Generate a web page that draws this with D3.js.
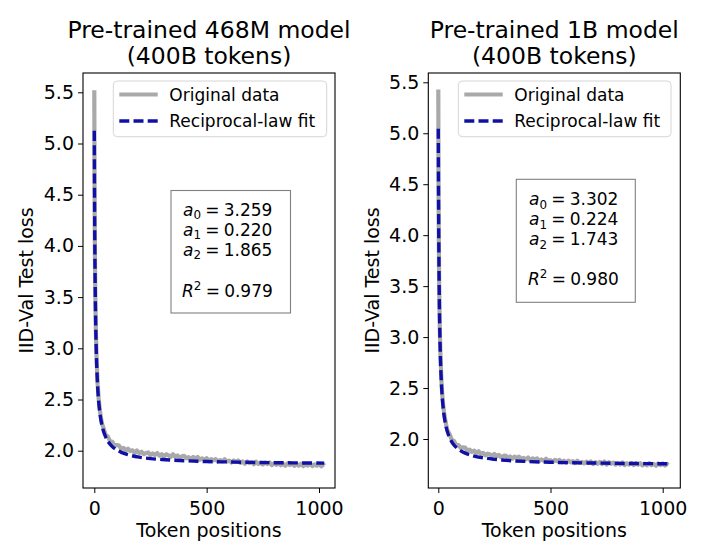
<!DOCTYPE html>
<html><head><meta charset="utf-8">
<script src="https://cdn.jsdelivr.net/npm/d3@7"></script>
<style>
body{margin:0;background:#fff;}
text{font-family:"DejaVu Sans",sans-serif;fill:#000;}
</style></head><body>
<svg id="chart" width="712" height="556"></svg>
<script>
// ---- data ----
const titles = [["Pre-trained 468M model","(400B tokens)"],["Pre-trained 1B model","(400B tokens)"]];
const yTicks = [2.0,2.5,3.0,3.5,4.0,4.5,5.0,5.5];
const xTicks = [0,500,1000];
const xLabel = "Token positions";
const yLabel = "IID-Val Test loss";
const legendLabels = ["Original data","Reciprocal-law fit"];

const dataTokens = [0,1,2,3,4,5,7,10,15,20,25,30,35,40,50,60,70,80,90,100,110,120,130,140,150,160,170,180,190,200,210,220,230,240,250,260,270,280,290,300,310,320,330,340,350,360,370,380,390,400,410,420,430,440,450,460,470,480,490,500,510,520,530,540,550,560,570,580,590,600,610,620,630,640,650,660,670,680,690,700,710,720,730,740,750,760,770,780,790,800,810,820,830,840,850,860,870,880,890,900,910,920,930,940,950,960,970,980,990,1000,1010,1020,1023];

const data468M = [5.52,4.60,4.15,3.85,3.62,3.44,3.17,2.91,2.645,2.49,2.39,2.315,2.26,
2.228,2.156,2.139,2.093,2.087,2.050,2.055,2.050,2.018,2.028,2.000,2.020,1.996,2.004,1.977,2.002,1.976,
1.990,1.966,1.977,1.983,1.956,1.973,1.959,1.977,1.951,1.965,1.943,1.965,1.955,1.941,1.966,1.941,1.953,1.929,1.945,1.949,
1.926,1.937,1.916,1.939,1.924,1.939,1.911,1.925,1.910,1.927,1.898,1.918,1.906,1.917,1.893,1.909,1.895,1.916,1.894,1.903,
1.885,1.905,1.890,1.904,1.881,1.895,1.873,1.895,1.878,1.889,1.868,1.893,1.871,1.881,1.865,1.884,1.870,1.885,1.859,1.877,
1.862,1.880,1.858,1.872,1.853,1.876,1.860,1.873,1.852,1.869,1.854,1.874,1.849,1.867,1.854,1.871,1.850,1.867,1.854,1.869,
1.848,1.865,1.855];

const data1B = [5.43,4.53,4.06,3.75,3.51,3.33,3.05,2.79,2.525,2.37,2.27,2.20,2.14,
2.089,2.048,1.992,1.981,1.938,1.940,1.912,1.918,1.915,1.884,1.896,1.873,1.886,1.857,1.879,1.855,1.864,
1.839,1.856,1.848,1.833,1.854,1.832,1.845,1.820,1.834,1.838,1.815,1.828,1.806,1.827,1.813,1.827,1.802,1.814,1.800,1.818,
1.790,1.810,1.799,1.809,1.783,1.799,1.786,1.806,1.784,1.793,1.775,1.795,1.781,1.795,1.772,1.787,1.767,1.788,1.771,1.783,
1.763,1.786,1.765,1.775,1.760,1.778,1.764,1.779,1.754,1.772,1.757,1.776,1.754,1.779,1.749,1.772,1.757,1.769,1.748,1.766,
1.750,1.770,1.745,1.762,1.749,1.766,1.744,1.762,1.748,1.762,1.741,1.759,1.742,1.763,1.744,1.755,1.738,1.760,1.745,1.760,
1.739,1.755,1.744];

const fitTokens = [0,1,2,3,4,5,7,10,15,20,25,30,40,50,60,70,80,90,100,120,150,200,250,300,400,500,600,700,800,900,1023];
const fit468M = [5.124,4.536,4.128,3.828,3.599,3.417,3.148,2.883,2.623,2.469,2.366,2.294,2.198,2.137,2.095,2.064,2.040,2.022,2.007,1.984,1.961,1.937,1.923,1.914,1.902,1.894,1.890,1.886,1.883,1.881,1.879];
const fit1B = [5.045,4.441,4.023,3.718,3.485,3.301,3.029,2.762,2.500,2.346,2.243,2.171,2.075,2.014,1.972,1.941,1.918,1.899,1.884,1.861,1.838,1.815,1.801,1.791,1.779,1.772,1.767,1.764,1.761,1.759,1.757];

const params = [
  {a0:"3.259",a1:"0.220",a2:"1.865",r2:"0.979"},
  {a0:"3.302",a1:"0.224",a2:"1.743",r2:"0.980"}
];

// ---- layout ----
const panels = [
  {left:83, right:335, top:73, bottom:488, x0:94.3, x1000:319.0, y2:450.7, y55:92.3,
   data:data468M, fit:fit468M, p:params[0], title:titles[0],
   box:{x:171, y:190.5, w:119.5, h:122.5, tx:183, b:[215.7,235.7,255.7,297]},
   leg:{x:113.3, y:81, w:213.4, h:55.7}, ylabX:33},
  {left:428.3, right:680.3, top:73, bottom:488, x0:438.3, x1000:662.7, y2:439.0, y55:82.3,
   data:data1B, fit:fit1B, p:params[1], title:titles[1],
   box:{x:516.3, y:179.3, w:119, h:123, tx:529, b:[205,225,245,285]},
   leg:{x:458.3, y:81, w:212.7, h:55.7}, ylabX:378.5}
];

const svg = d3.select("#chart");
const TICK = 19, TITLE = 23.5, LEG = 17, BOX = 17;
const BLUE = "#1010a6", GRAY = "#a9a9a9";

panels.forEach((P,i)=>{
  const x = d3.scaleLinear().domain([0,1000]).range([P.x0,P.x1000]);
  const y = d3.scaleLinear().domain([2.0,5.5]).range([P.y2,P.y55]);
  const g = svg.append("g");
  const cid = "clip"+i;
  svg.append("clipPath").attr("id",cid).append("rect")
    .attr("x",P.left).attr("y",P.top).attr("width",P.right-P.left).attr("height",P.bottom-P.top);

  const plot = g.append("g").attr("clip-path",`url(#${cid})`);
  const line = d3.line().x(d=>x(d[0])).y(d=>y(d[1]));
  plot.append("path")
    .attr("d", line(dataTokens.map((t,k)=>[t,P.data[k]])))
    .attr("fill","none").attr("stroke",GRAY).attr("stroke-width",4.2).attr("stroke-linejoin","round");
  plot.append("path")
    .attr("d", d3.line().curve(d3.curveMonotoneX).x(d=>x(d[0])).y(d=>y(d[1]))(fitTokens.map((t,k)=>[t,P.fit[k]])))
    .attr("fill","none").attr("stroke",BLUE).attr("stroke-width",3.4).attr("stroke-dasharray","10,4.2");

  // axes
  const xAxis = d3.axisBottom(x).tickValues(xTicks).tickSize(5).tickPadding(4).tickFormat(d3.format("d"));
  const gx = g.append("g").attr("transform",`translate(0,${P.bottom})`).call(xAxis);
  gx.select(".domain").remove();
  gx.selectAll("line").attr("stroke","#000").attr("stroke-width",1);
  gx.selectAll("text").attr("font-size",TICK).attr("font-family","DejaVu Sans").attr("dy","0.95em");

  const yAxis = d3.axisLeft(y).tickValues(yTicks).tickSize(5).tickPadding(4).tickFormat(d3.format(".1f"));
  const gy = g.append("g").attr("transform",`translate(${P.left},0)`).call(yAxis);
  gy.select(".domain").remove();
  gy.selectAll("line").attr("stroke","#000").attr("stroke-width",1);
  gy.selectAll("text").attr("font-size",TICK).attr("font-family","DejaVu Sans");

  g.append("rect").attr("x",P.left).attr("y",P.top).attr("width",P.right-P.left).attr("height",P.bottom-P.top)
    .attr("fill","none").attr("stroke","#000").attr("stroke-width",1.1);

  const cx = (P.left+P.right)/2;
  g.append("text").attr("x",cx).attr("y",37.5).attr("text-anchor","middle").attr("font-size",TITLE).text(P.title[0]);
  g.append("text").attr("x",cx).attr("y",63.5).attr("text-anchor","middle").attr("font-size",TITLE).text(P.title[1]);
  g.append("text").attr("x",cx).attr("y",536.5).attr("text-anchor","middle").attr("font-size",TICK).text(xLabel);
  g.append("text").attr("transform",`translate(${P.ylabX},${(P.top+P.bottom)/2}) rotate(-90)`)
    .attr("text-anchor","middle").attr("font-size",TICK).text(yLabel);

  // legend
  const L = P.leg;
  g.append("rect").attr("x",L.x).attr("y",L.y).attr("width",L.w).attr("height",L.h).attr("rx",4)
    .attr("fill","#fff").attr("fill-opacity",0.8).attr("stroke","#d6d6d6").attr("stroke-width",1);
  const rows = [94.6, 121];
  g.append("line").attr("x1",L.x+6).attr("x2",L.x+44.4).attr("y1",rows[0]).attr("y2",rows[0])
    .attr("stroke",GRAY).attr("stroke-width",4);
  g.append("line").attr("x1",L.x+6).attr("x2",L.x+44.4).attr("y1",rows[1]).attr("y2",rows[1])
    .attr("stroke",BLUE).attr("stroke-width",3.4).attr("stroke-dasharray","10,4.2");
  legendLabels.forEach((s,k)=>{
    g.append("text").attr("x",L.x+56).attr("y",rows[k]+6.2).attr("font-size",LEG).text(s);
  });

  // parameter box
  const B = P.box;
  g.append("rect").attr("x",B.x).attr("y",B.y).attr("width",B.w).attr("height",B.h)
    .attr("fill","#fff").attr("stroke","#808080").attr("stroke-width",1.1);
  const lines = [["a","0",P.p.a0],["a","1",P.p.a1],["a","2",P.p.a2]];
  lines.forEach((ln,k)=>{
    const t = g.append("text").attr("x",B.tx).attr("y",B.b[k]).attr("font-size",BOX);
    t.append("tspan").attr("font-style","italic").text(ln[0]);
    t.append("tspan").attr("font-size",BOX*0.7).attr("dy",3.5).text(ln[1]);
    t.append("tspan").attr("dy",-3.5).text("\u2005=\u2005"+ln[2]);
  });
  const tr = g.append("text").attr("x",B.tx-1).attr("y",B.b[3]).attr("font-size",BOX);
  tr.append("tspan").attr("font-style","italic").text("R");
  tr.append("tspan").attr("font-size",BOX*0.7).attr("dy",-7).text("2");
  tr.append("tspan").attr("dy",7).text("\u2005=\u2005"+P.p.r2);
});
</script>
</body></html>
